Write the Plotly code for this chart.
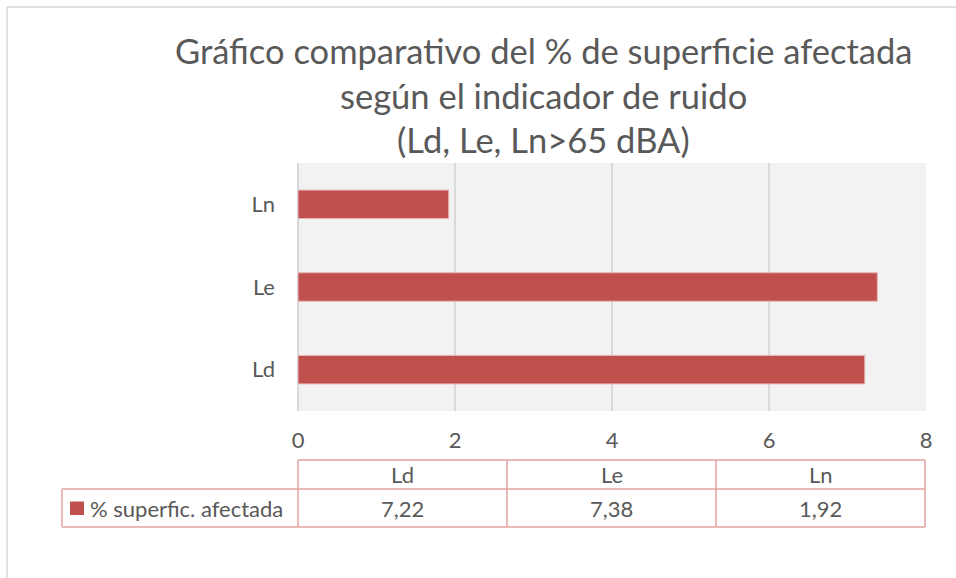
import plotly.graph_objects as go

# ---- data ----
categories = ["Ld", "Le", "Ln"]
values = [7.22, 7.38, 1.92]
series_name = "% superfic. afectada"
x_ticks = [0, 2, 4, 6, 8]
title_lines = [
    "Gráfico comparativo del % de superficie afectada",
    "según el indicador de ruido",
    "(Ld, Le, Ln>65 dBA)",
]

# ---- layout geometry (pixels) ----
W, H = 956, 578
L, R, T, B = 298, 926, 163, 411
FONT = "Lato"
TXT = "#595959"
BAR = "#C0504D"
TBL = "#E3A3A2"


def px(x):
    return (x - L) / (R - L)


def py(y):
    return (B - y) / (B - T)


fig = go.Figure()
fig.add_trace(go.Bar(
    y=categories, x=values, orientation="h", width=0.345,
    marker=dict(color=BAR, line=dict(color="#E6B9B8", width=1)),
    name=series_name, showlegend=False, hoverinfo="x+y",
))

shapes = []
annotations = []

# outer chart border (extends beyond the window)
shapes.append(dict(type="line", xref="paper", yref="paper",
                   x0=px(7), y0=py(7), x1=px(1000), y1=py(7),
                   line=dict(color="#D9D9D9", width=1.5)))
shapes.append(dict(type="line", xref="paper", yref="paper",
                   x0=px(7), y0=py(7), x1=px(7), y1=py(620),
                   line=dict(color="#D9D9D9", width=1.5)))

# data table
t_top, t_mid, t_bot = 460, 489, 527
t_left = 62
n = len(categories)
col_edges = [L + i * (R - 1 - L) / n for i in range(n + 1)]
line_style = dict(color=TBL, width=1.5)
shapes.append(dict(type="line", xref="paper", yref="paper",
                   x0=px(col_edges[0]), x1=px(col_edges[-1]), y0=py(t_top), y1=py(t_top), line=line_style))
shapes.append(dict(type="line", xref="paper", yref="paper",
                   x0=px(t_left), x1=px(col_edges[-1]), y0=py(t_mid), y1=py(t_mid), line=line_style))
shapes.append(dict(type="line", xref="paper", yref="paper",
                   x0=px(t_left), x1=px(col_edges[-1]), y0=py(t_bot), y1=py(t_bot), line=line_style))
for e in col_edges:
    shapes.append(dict(type="line", xref="paper", yref="paper",
                       x0=px(e), x1=px(e), y0=py(t_top), y1=py(t_bot), line=line_style))
shapes.append(dict(type="line", xref="paper", yref="paper",
                   x0=px(t_left), x1=px(t_left), y0=py(t_mid), y1=py(t_bot), line=line_style))

# legend key square
shapes.append(dict(type="rect", xref="paper", yref="paper",
                   x0=px(70), x1=px(84), y0=py(501.5), y1=py(515),
                   fillcolor=BAR, line=dict(width=0)))

tfont = dict(family=FONT, size=22, color=TXT, weight=400)
for i, (c, v) in enumerate(zip(categories, values)):
    cx = (col_edges[i] + col_edges[i + 1]) / 2
    annotations.append(dict(xref="paper", yref="paper", x=px(cx), y=py((t_top + t_mid) / 2),
                            text=c, showarrow=False, font=tfont, xanchor="center", yanchor="middle"))
    annotations.append(dict(xref="paper", yref="paper", x=px(cx), y=py((t_mid + t_bot) / 2),
                            text=f"{v:.2f}".replace(".", ","), showarrow=False, font=tfont,
                            xanchor="center", yanchor="middle"))
annotations.append(dict(xref="paper", yref="paper", x=px(88), y=py((t_mid + t_bot) / 2),
                        text=series_name, showarrow=False, font=tfont,
                        xanchor="left", yanchor="middle"))

# title lines
for yy, line in zip([51, 96, 139], title_lines):
    annotations.append(dict(xref="paper", yref="paper", x=px(543), y=py(yy), text=line,
                            showarrow=False,
                            font=dict(family=FONT, size=34.5, color=TXT, weight=400),
                            xanchor="center", yanchor="middle"))

fig.update_layout(
    width=W, height=H,
    margin=dict(l=L, r=W - R, t=T, b=H - B, pad=0),
    paper_bgcolor="white", plot_bgcolor="#F2F2F2",
    showlegend=False,
    shapes=shapes, annotations=annotations,
)
fig.update_xaxes(range=[0, 8], tickvals=x_ticks, ticktext=[str(t) for t in x_ticks],
                 showgrid=True, gridcolor="#D9D9D9", gridwidth=1.5,
                 zeroline=True, zerolinecolor="#D9D9D9", zerolinewidth=1.5,
                 showline=False, ticks="", ticklabelstandoff=14,
                 tickfont=dict(family=FONT, size=22, color=TXT, weight=400), fixedrange=True)
fig.update_yaxes(categoryorder="array", categoryarray=categories,
                 showgrid=False, zeroline=False, showline=False, ticks="",
                 ticklabelstandoff=22,
                 tickfont=dict(family=FONT, size=22, color=TXT, weight=400), fixedrange=True)

fig.write_html("out.html", config={"displayModeBar": False},
               post_script="document.body.style.margin='0';document.body.style.padding='0';")
